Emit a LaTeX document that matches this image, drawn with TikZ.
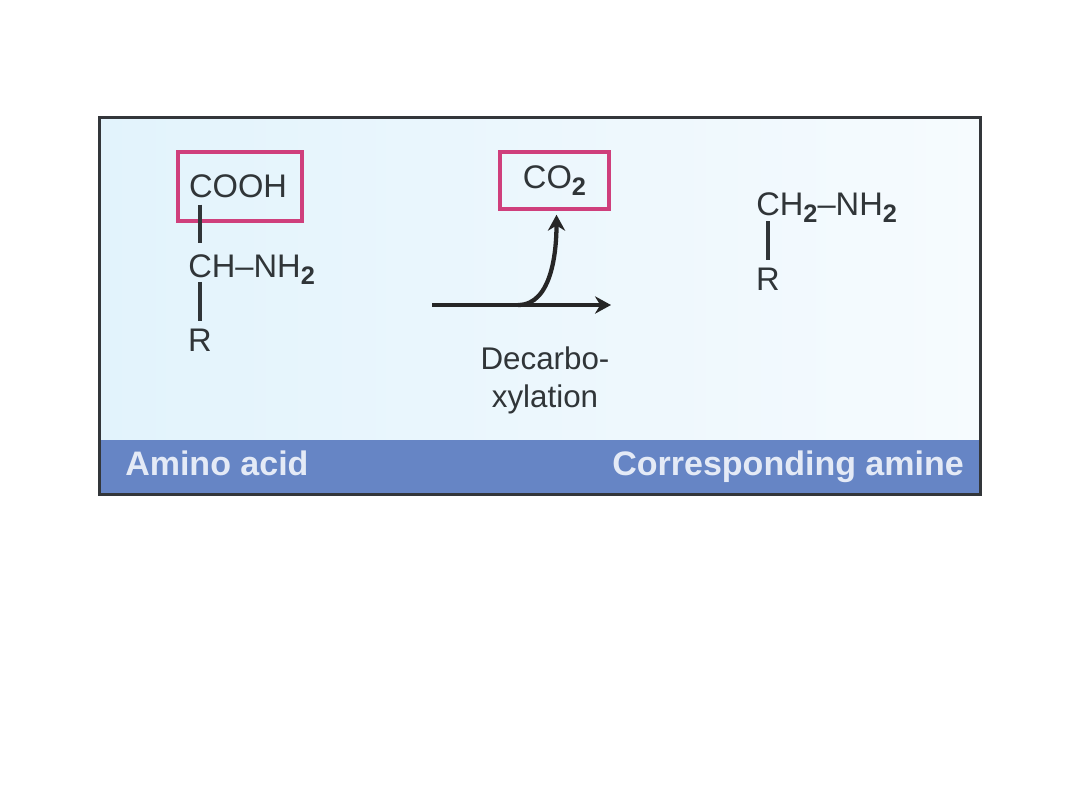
\documentclass[tikz,border=0pt]{standalone}
\usepackage{fontspec}
\setmainfont{Liberation Sans}
\usetikzlibrary{arrows.meta}
\definecolor{panelleft}{HTML}{E2F3FC}
\definecolor{panelright}{HTML}{F6FBFE}
\definecolor{bandblue}{HTML}{6685C5}
\definecolor{boxpink}{HTML}{CF3F7C}
\definecolor{inkgrey}{HTML}{303538}
\definecolor{framegrey}{HTML}{33363A}
\definecolor{bandtext}{HTML}{E4EAF6}
\newcommand{\subtwo}{\raisebox{-5.5pt}{\fontsize{19}{19}\selectfont\bfseries 2}}
\tikzset{
  chem/.style={text=inkgrey, inner sep=0pt, font=\fontsize{24.5}{28}\selectfont},
  pinkbox/.style={chem, draw=boxpink, line width=2.6pt},
  bond/.style={draw=inkgrey, line width=2.8pt},
  flow/.style={draw=black!85, line width=3.2pt, -{Stealth[length=12pt,width=13pt]}},
  bandlabel/.style={text=bandtext, inner sep=0pt, font=\fontsize{25.5}{30}\selectfont\bfseries}
}
\begin{document}
\begin{tikzpicture}[x=0.75pt, y=-0.75pt]
    \useasboundingbox (0,0) rectangle (1080,810);

    % panel and band
    \node[minimum width=660pt, minimum height=282.75pt, inner sep=0pt, left color=panelleft, right color=panelright] (panel) at (540,306.5) {};
    \node[minimum width=660pt, minimum height=40.5pt, inner sep=0pt, fill=bandblue] (band) at (540,467) {};
    \draw[draw=framegrey, line width=2.4pt] (panel.north west) rectangle (band.south east);

    % amino acid
    \node[pinkbox, minimum width=93pt, minimum height=51.75pt] (cooh) at (240,186.5) {\hspace{-3pt}COOH};
    \node[chem, anchor=base west] (chnh) at (188,277) {CH–NH\subtwo};
    \node[chem] (r) at (200,340) {R};
    \draw[bond] ([yshift=13.5pt]cooh.south -| r) -- ([yshift=8pt]chnh.north -| r);
    \draw[bond] ([yshift=2pt]chnh.south -| r) -- ([yshift=6pt]r.north);

    % reaction arrow
    \node[pinkbox, minimum width=82pt, minimum height=42.75pt] (co2) at (554.5,180.5) {\raisebox{-1.5pt}{CO\subtwo}};
    \coordinate (start) at (432,305);
    \coordinate (end) at (611,305);
    \coordinate (split) at (518,305);
    \draw[flow] (start) -- (end);
    \draw[flow] (split) to[out=0, in=-90, looseness=0.9] ([xshift=1.5pt, yshift=-3pt]co2.south);
    \node[chem, align=center, font=\fontsize{23.5}{28}\selectfont] (decarb) at (545,380.5) {Decarbo-\\xylation};

    % amine
    \node[chem, anchor=base west] (chtwo) at (756,215) {CH\subtwo–NH\subtwo};
    \node[chem] (rtwo) at (768,279) {R};
    \draw[bond] ([yshift=1pt]chtwo.south -| rtwo) -- ([yshift=6pt]rtwo.north);

    % band labels
    \node[bandlabel, anchor=base west] (amino) at (125,475) {Amino acid};
    \node[bandlabel, anchor=base east] (amine) at (964,475) {Corresponding amine};
\end{tikzpicture}
\end{document}
